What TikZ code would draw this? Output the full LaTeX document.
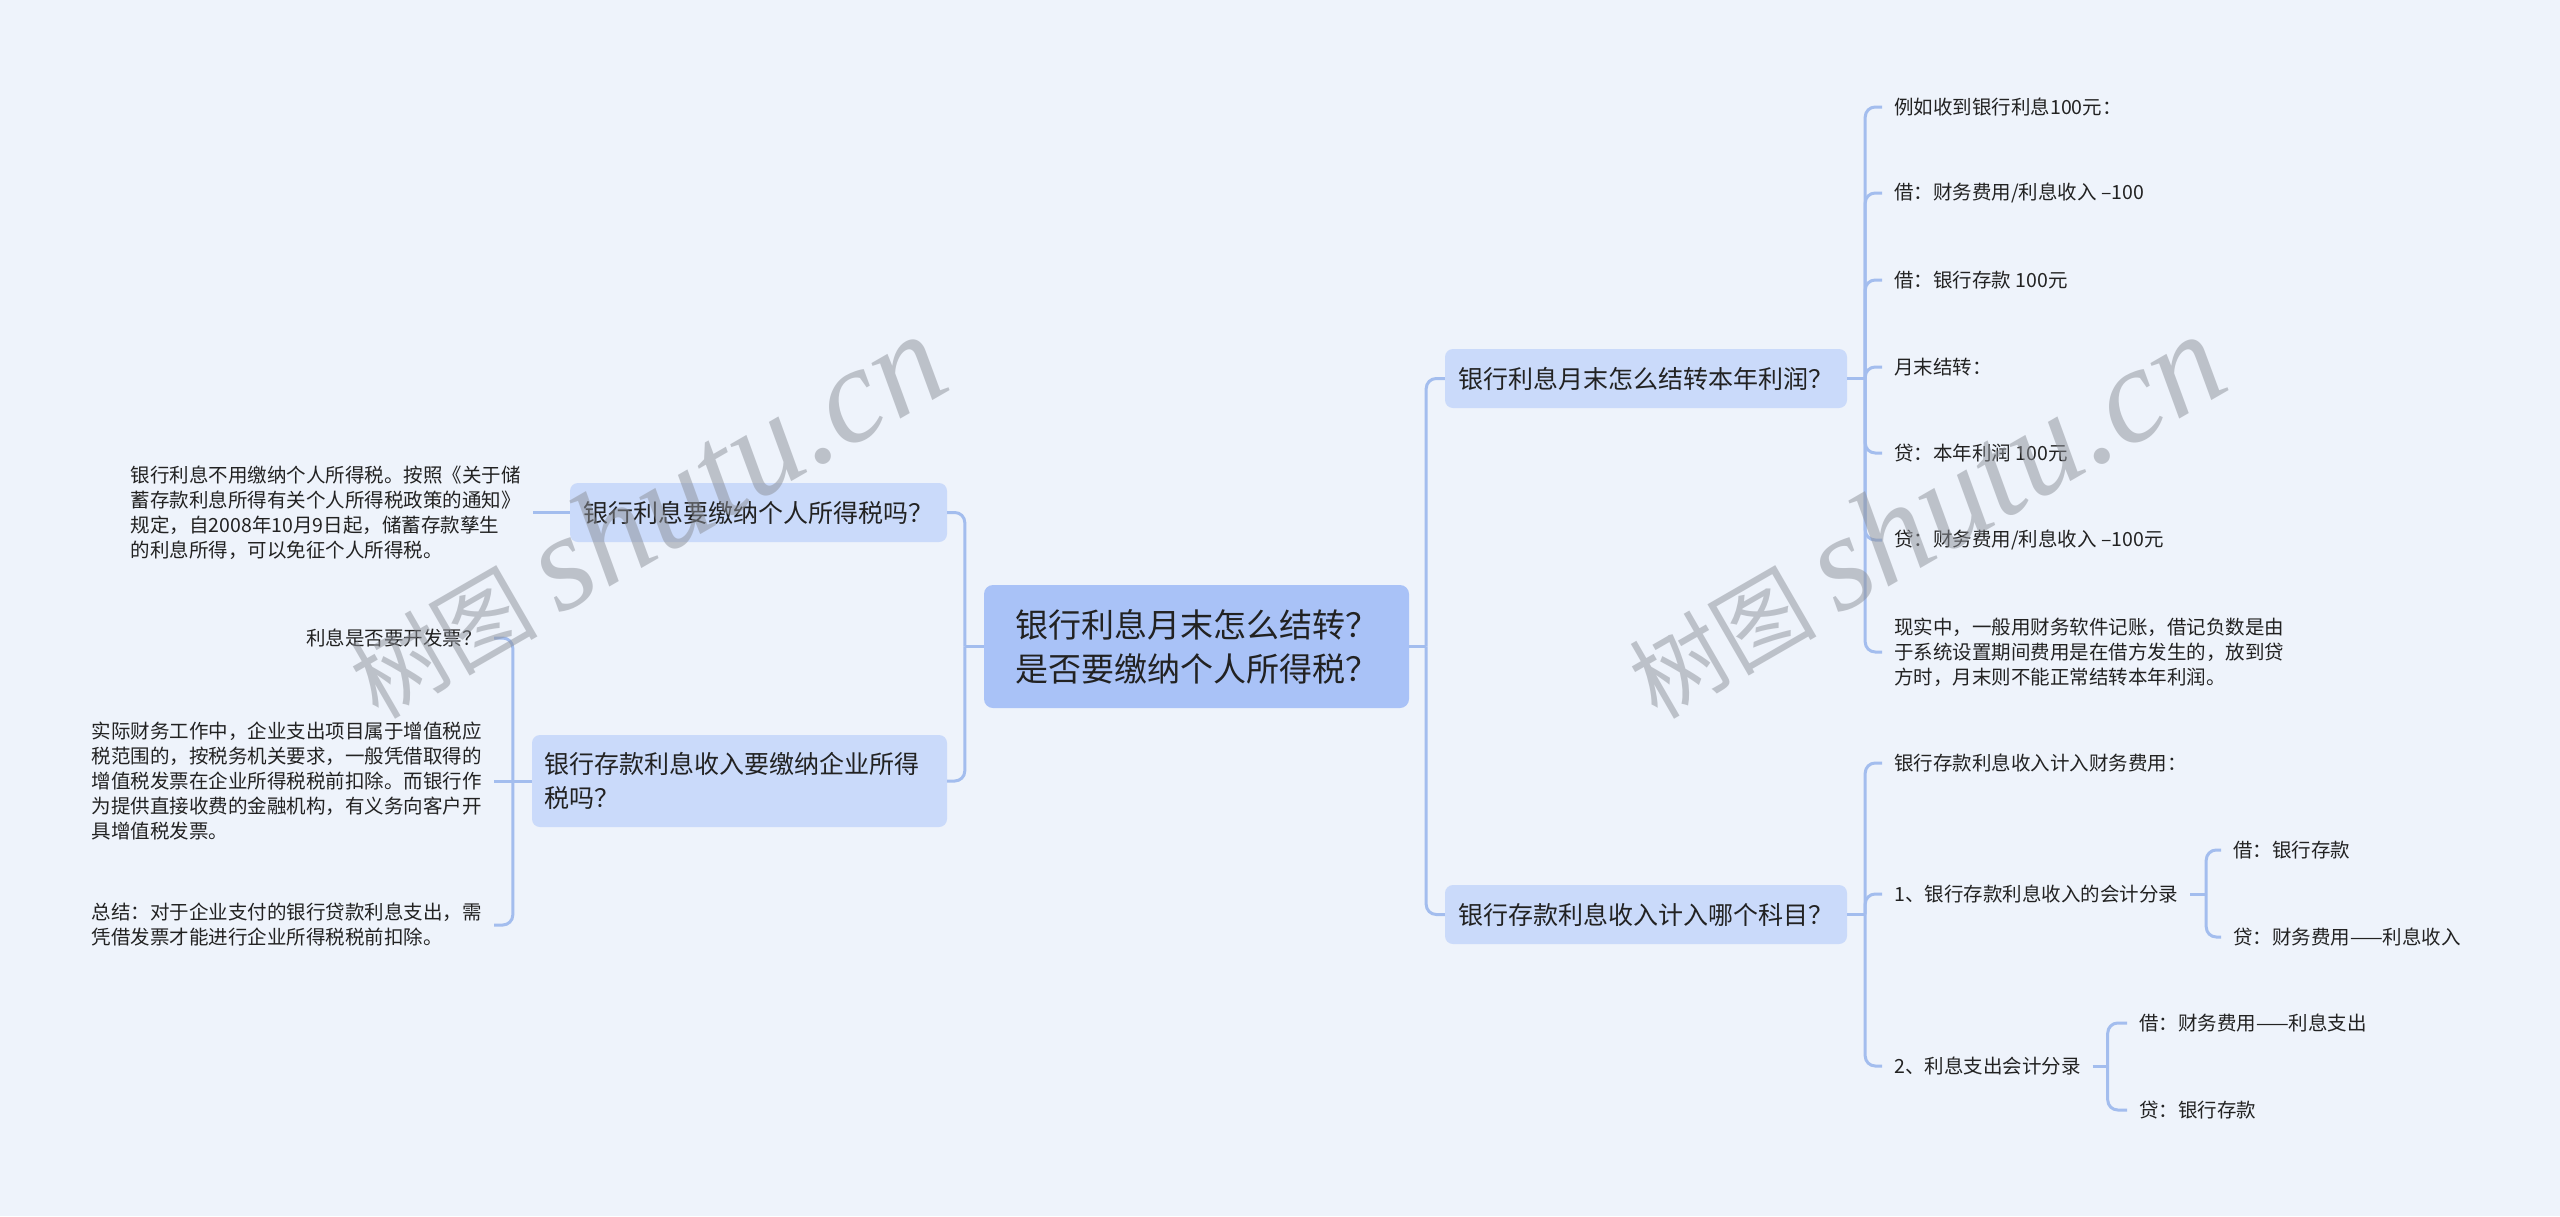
\documentclass[tikz,border=0pt]{standalone}
\usepackage{fontspec}
\setmainfont{Noto Sans CJK SC}
\newfontfamily\wmfont{Liberation Serif}
\usepackage{xcolor}
\usepackage{tikz}
\usetikzlibrary{positioning}
\definecolor{bgblue}{RGB}{238,243,251}
\definecolor{rootblue}{RGB}{169,194,247}
\definecolor{topicblue}{RGB}{202,218,250}
\definecolor{linkblue}{RGB}{163,189,238}
\definecolor{textdark}{RGB}{34,34,34}
\definecolor{wmgray}{RGB}{140,144,152}

\begin{document}
\begin{tikzpicture}[x=1pt,y=-1pt,
  root/.style={fill=rootblue,rounded corners=9pt,minimum width=425pt,minimum height=123pt,
    align=center,inner sep=0pt,text=textdark,font=\fontsize{33}{44}\selectfont},
  topic/.style={fill=topicblue,rounded corners=8pt,minimum height=59pt,inner sep=0pt,
    text=textdark,font=\fontsize{25}{34}\selectfont},
  leaf/.style={align=left,inner xsep=12pt,inner ysep=3pt,text=textdark,
    font=\fontsize{19.5}{25}\selectfont},
  link/.style={draw=linkblue,line width=3pt,rounded corners=10pt},
  wmark/.style={text=wmgray,opacity=.5,rotate=30}]
\useasboundingbox (0,0) rectangle (2560,1216);
\fill[bgblue] (0,0) rectangle (2560,1216);

% centre and main topics
\node[root] (root) at (1196.5,646.5) {银行利息月末怎么结转？\\是否要缴纳个人所得税？};
\node[topic,minimum width=377pt] (lq1) at (758.5,512.5) {银行利息要缴纳个人所得税吗？};
\node[topic,minimum width=415pt,minimum height=92pt,text width=390pt,inner xsep=12.5pt,align=left]
  (lq2) at (739.5,781) {银行存款利息收入要缴纳企业所得\\税吗？};
\node[topic,minimum width=402pt] (rq1) at (1646,378.5) {银行利息月末怎么结转本年利润？};
\node[topic,minimum width=402pt] (rq2) at (1646,914.5) {银行存款利息收入计入哪个科目？};

% left leaves
\node[leaf,anchor=east] (la1) at (533,512.5) {银行利息不用缴纳个人所得税。按照《关于储\\蓄存款利息所得有关个人所得税政策的通知》\\规定，自2008年10月9日起，储蓄存款孳生\\的利息所得，可以免征个人所得税。};
\node[leaf,anchor=east] (lb1) at (494,638) {利息是否要开发票？};
\node[leaf,anchor=east] (lb2) at (494,781) {实际财务工作中，企业支出项目属于增值税应\\税范围的，按税务机关要求，一般凭借取得的\\增值税发票在企业所得税税前扣除。而银行作\\为提供直接收费的金融机构，有义务向客户开\\具增值税发票。};
\node[leaf,anchor=east] (lb3) at (494,925) {总结：对于企业支付的银行贷款利息支出，需\\凭借发票才能进行企业所得税税前扣除。};

% right leaves
\node[leaf,anchor=west] (ra1) at (1882,107) {例如收到银行利息100元：};
\node[leaf,anchor=west] (ra2) at (1882,193) {借：财务费用/利息收入 –100};
\node[leaf,anchor=west] (ra3) at (1882,280) {借：银行存款 100元};
\node[leaf,anchor=west] (ra4) at (1882,367) {月末结转：};
\node[leaf,anchor=west] (ra5) at (1882,453) {贷：本年利润 100元};
\node[leaf,anchor=west] (ra6) at (1882,540) {贷：财务费用/利息收入 –100元};
\node[leaf,anchor=west] (ra7) at (1882,652) {现实中，一般用财务软件记账，借记负数是由\\于系统设置期间费用是在借方发生的，放到贷\\方时，月末则不能正常结转本年利润。};
\node[leaf,anchor=west] (rb1) at (1882,763) {银行存款利息收入计入财务费用：};
\node[leaf,anchor=west] (rb2) at (1882,894) {1、银行存款利息收入的会计分录};
\node[leaf,anchor=west] (rb3) at (1882,1066) {2、利息支出会计分录};
\node[leaf,anchor=west] (rb21) at (2221,850) {借：银行存款};
\node[leaf,anchor=west] (rb22) at (2221,937) {贷：财务费用——利息收入};
\node[leaf,anchor=west] (rb31) at (2127,1023) {借：财务费用——利息支出};
\node[leaf,anchor=west] (rb32) at (2127,1110) {贷：银行存款};

% junctions
\coordinate (rootl) at ([xshift=-19pt]root.west);
\coordinate (rootr) at ([xshift=17pt]root.east);
\coordinate (lq2j) at ([xshift=-19pt]lq2.west);
\coordinate (rq1j) at ([xshift=18pt]rq1.east);
\coordinate (rq2j) at ([xshift=18pt]rq2.east);
\coordinate (rb2j) at ([xshift=16pt]rb2.east);
\coordinate (rb3j) at ([xshift=15pt]rb3.east);

% links
\draw[link] (root.west) -- (rootl);
\draw[link] (root.east) -- (rootr);
\foreach \t in {lq1,lq2} \draw[link] (rootl) |- (\t.east);
\foreach \t in {rq1,rq2} \draw[link] (rootr) |- (\t.west);
\draw[link] (lq1.west) -- (la1.east);
\draw[link] (lq2.west) -- (lq2j) -- (lb2.east);
\foreach \t in {lb1,lb3} \draw[link] (lq2j) |- (\t.east);
\draw[link] (rq1.east) -- (rq1j);
\foreach \t in {ra1,ra2,ra3,ra4,ra5,ra6,ra7} \draw[link] (rq1j) |- (\t.west);
\draw[link] (rq2.east) -- (rq2j);
\foreach \t in {rb1,rb2,rb3} \draw[link] (rq2j) |- (\t.west);
\draw[link] (rb2.east) -- (rb2j);
\foreach \t in {rb21,rb22} \draw[link] (rb2j) |- (\t.west);
\draw[link] (rb3.east) -- (rb3j);
\foreach \t in {rb31,rb32} \draw[link] (rb3j) |- (\t.west);

% watermark
\node[wmark] (wm1) at (645,516) {\fontsize{94}{94}\selectfont 树图 {\wmfont\itshape\fontsize{136}{136}\selectfont shutu.cn}};
\node[wmark] (wm2) at (1924,516) {\fontsize{94}{94}\selectfont 树图 {\wmfont\itshape\fontsize{136}{136}\selectfont shutu.cn}};
\end{tikzpicture}
\end{document}
